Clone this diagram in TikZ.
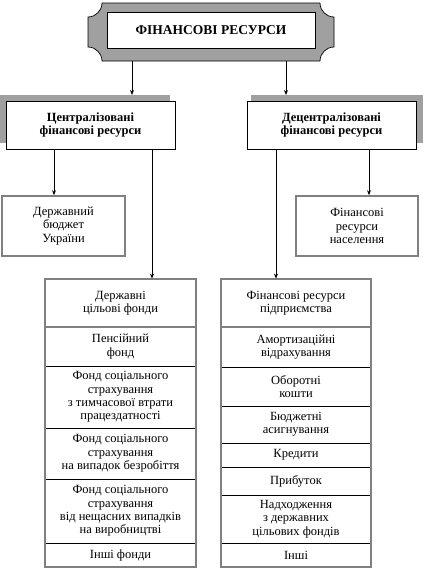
\documentclass[tikz,border=0pt]{standalone}
\usepackage{fontspec}
\setmainfont{Liberation Serif}
\usetikzlibrary{arrows.meta}
\definecolor{plaquegray}{HTML}{A0A0A0}
\definecolor{bordergray}{HTML}{808080}
\begin{document}
\begin{tikzpicture}[x=1pt,y=-1pt,
  txt/.style={font=\fontsize{12.5}{13.4}\selectfont, align=center, inner sep=0pt},
  boldtxt/.style={font=\bfseries\fontsize{12.5}{13}\selectfont, align=center, inner sep=0pt},
  cell/.style={txt, draw=black, line width=0.7pt},
  graybox/.style={txt, draw=bordergray, line width=1.6pt},
  outerborder/.style={draw=bordergray, line width=1.8pt},
  shadowbox/.style={fill=plaquegray, inner sep=0pt, anchor=north west},
  mainbox/.style={boldtxt, draw=black, fill=white, line width=0.8pt, minimum width=169pt, minimum height=48pt},
  arr/.style={draw=black, line width=0.9pt, -{Stealth[length=5pt,width=4pt]}}
]
\useasboundingbox (0,0) rectangle (423,571);
\fill[white] (0,0) rectangle (423,571);

% plaque
\filldraw[fill=plaquegray, draw=black, line width=0.7pt]
  (102,3) -- (320,3) .. controls (320,10.7) and (326.3,17) .. (334,17)
  -- (334,47) .. controls (326.3,47) and (320,53.3) .. (320,61)
  -- (102,61) .. controls (102,53.3) and (95.7,47) .. (88,47)
  -- (88,17) .. controls (95.7,17) and (102,10.7) .. (102,3) -- cycle;
\node[boldtxt, font=\bfseries\fontsize{13.5}{14}\selectfont, draw=black, fill=white, line width=0.8pt, minimum width=208pt, minimum height=36pt] (title) at (211,30) {ФІНАНСОВІ РЕСУРСИ};
\coordinate (p1) at (132,61);
\coordinate (p2) at (286,61);

% second level
\node[shadowbox, minimum width=170pt, minimum height=48pt] (cs) at (0,95) {};
\node[mainbox] (c) at (90.5,125) {Централізовані\\фінансові ресурси};
\node[shadowbox, minimum width=172pt, minimum height=48pt] (ds) at (251,95) {};
\node[mainbox] (d) at (331.5,125) {Децентралізовані\\фінансові ресурси};

\draw[arr] (p1) -- (p1 |- cs.north);
\draw[arr] (p2) -- (p2 |- ds.north);

% third level
\node[graybox, minimum width=123pt, minimum height=60pt] (bud) at (63.5,226) {Державний\\бюджет\\України};
\node[graybox, minimum width=122pt, minimum height=60pt] (pop) at (357,226) {Фінансові\\ресурси\\населення};

% left column
\node[cell, minimum width=151pt, minimum height=48pt] (l0) at (120.5,303) {Державні\\цільові фонди};
\node[cell, minimum width=151pt, minimum height=39pt] (l1) at (120.5,346.5) {Пенсійний\\фонд};
\node[cell, minimum width=151pt, minimum height=62pt] (l2) at (120.5,397) {Фонд соціального\\страхування\\з тимчасової втрати\\працездатності};
\node[cell, minimum width=151pt, minimum height=51pt] (l3) at (120.5,453.5) {Фонд соціального\\страхування\\на випадок безробіття};
\node[cell, minimum width=151pt, minimum height=64pt] (l4) at (120.5,511) {Фонд соціального\\страхування\\від нещасних випадків\\на виробництві};
\node[cell, minimum width=151pt, minimum height=24pt] (l5) at (120.5,555) {Інші фонди};
\draw[outerborder] (l0.south west) -- (l0.south east);
\draw[outerborder] (l0.north west) rectangle (l5.south east);

% right column
\node[cell, minimum width=150pt, minimum height=48pt] (r0) at (296,303) {Фінансові ресурси\\підприємства};
\node[cell, minimum width=150pt, minimum height=40pt] (r1) at (296,347) {Амортизаційні\\відрахування};
\node[cell, minimum width=150pt, minimum height=39pt] (r2) at (296,386.5) {Оборотні\\кошти};
\node[cell, minimum width=150pt, minimum height=37pt] (r3) at (296,424.5) {Бюджетні\\асигнування};
\node[cell, minimum width=150pt, minimum height=24pt] (r4) at (296,455) {Кредити};
\node[cell, minimum width=150pt, minimum height=28pt] (r5) at (296,481) {Прибуток};
\node[cell, minimum width=150pt, minimum height=48pt] (r6) at (296,519) {Надходження\\з державних\\цільових фондів};
\node[cell, minimum width=150pt, minimum height=24pt] (r7) at (296,555) {Інші};
\draw[outerborder] (r0.south west) -- (r0.south east);
\draw[outerborder] (r0.north west) rectangle (r7.south east);

% connectors
\coordinate (x1) at (54,0);
\coordinate (x2) at (152,0);
\coordinate (x3) at (276,0);
\coordinate (x4) at (369,0);
\draw[arr] (c.south -| x1) -- (bud.north -| x1);
\draw[arr] (c.south -| x2) -- (l0.north -| x2);
\draw[arr] (d.south -| x3) -- (r0.north -| x3);
\draw[arr] (d.south -| x4) -- (pop.north -| x4);
\end{tikzpicture}
\end{document}
